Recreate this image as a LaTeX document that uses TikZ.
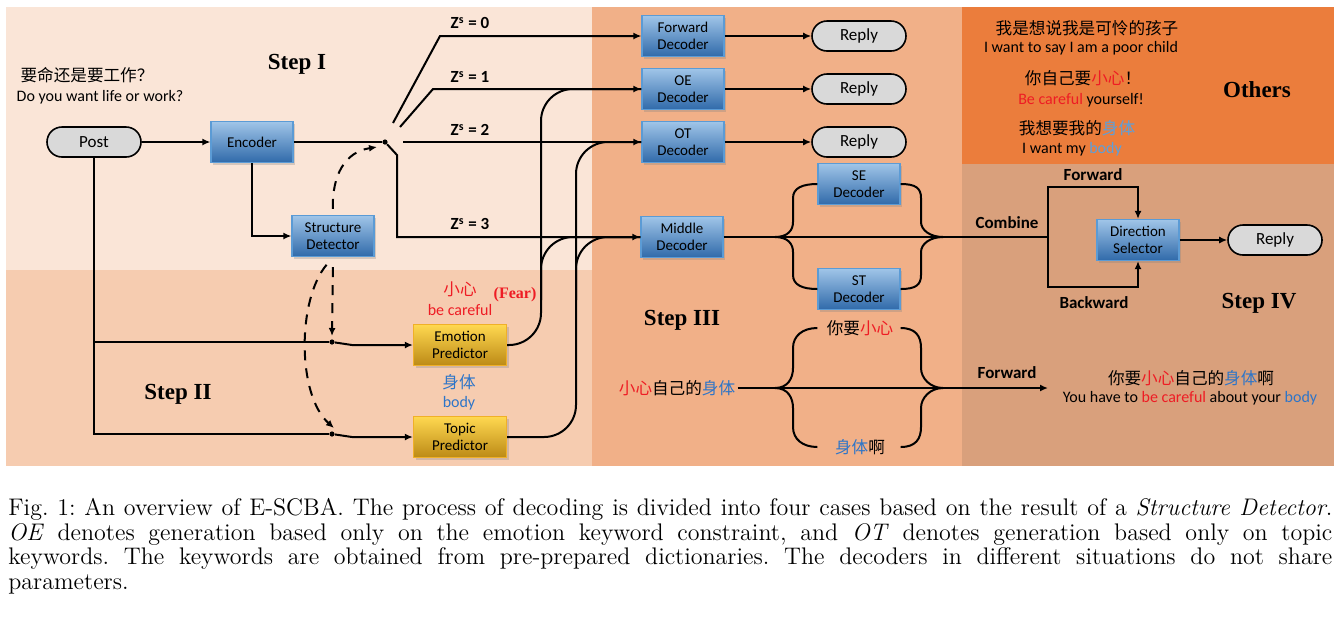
\documentclass[tikz,border=0pt]{standalone}
\usepackage{fontspec}
\setsansfont{Carlito}
\newfontfamily\cjk{Noto Sans CJK SC}
\newfontfamily\stepfont{Liberation Serif}
\usetikzlibrary{positioning,arrows.meta,shadows}

\definecolor{bgI}{RGB}{250,229,215}
\definecolor{bgII}{RGB}{246,204,176}
\definecolor{bgIII}{RGB}{241,176,136}
\definecolor{bgO}{RGB}{235,125,60}
\definecolor{bgIV}{RGB}{217,160,124}
\definecolor{boxtop}{RGB}{160,197,232}
\definecolor{boxbot}{RGB}{48,106,170}
\definecolor{boxedge}{RGB}{91,155,213}
\definecolor{predtop}{RGB}{255,216,80}
\definecolor{predbot}{RGB}{188,138,22}
\definecolor{prededge}{RGB}{240,176,40}
\definecolor{pillgray}{RGB}{217,217,217}
\definecolor{kred}{RGB}{238,28,36}
\definecolor{kblue}{RGB}{46,117,200}
\definecolor{kbluelt}{RGB}{91,160,220}

\begin{document}
\begin{tikzpicture}[x=0.5pt, y=-0.5pt,
    wire/.style={line width=1pt},
    arr/.style={wire, -{Latex[length=4pt,width=3.5pt]}},
    dsh/.style={wire, dash pattern=on 5pt off 4pt},
    box/.style={rectangle, draw=boxedge, line width=0.6pt, top color=boxtop, bottom color=boxbot,
        minimum width=41pt, minimum height=20.5pt, inner sep=1pt, align=center,
        font=\sffamily\fontsize{7.5}{8.5}\selectfont,
        drop shadow={shadow xshift=1pt, shadow yshift=-1pt, opacity=0.3}},
    pred/.style={box, draw=prededge, top color=predtop, bottom color=predbot, minimum width=46.5pt},
    pill/.style={rectangle, rounded corners=7.5pt, draw, line width=0.8pt, fill=pillgray,
        minimum width=47pt, minimum height=15pt, font=\sffamily\fontsize{8.5}{10}\selectfont},
    step_label/.style={font=\stepfont\bfseries\fontsize{11.5}{13}\selectfont},
    z_label/.style={font=\sffamily\bfseries\fontsize{8.5}{10}\selectfont},
    txt/.style={font=\sffamily\fontsize{8}{9.5}\selectfont, inner sep=1pt},
    cn/.style={font=\cjk\fontsize{8.3}{10}\selectfont, inner sep=1pt},
    dot/.style={circle, fill=black, inner sep=0pt, minimum size=2.6pt}
]
    \useasboundingbox (0,0) rectangle (1342,618);
    % Fundos
    \fill[white] (0,0) rectangle (1342,618);
    \fill[bgI] (6,7) rectangle (592,270);
    \fill[bgII] (6,270) rectangle (592,466);
    \fill[bgIII] (592,7) rectangle (962,466);
    \fill[bgO] (962,7) rectangle (1334,164);
    \fill[bgIV] (962,164) rectangle (1334,466);

    % Passo I
    \node[step_label] (s1) at (297,64) {Step I};
    \node[cn] (q_cn) at (87,75) {要命还是要工作？};
    \node[txt] (q_en) at (100,97) {Do you want life or work?};
    \node[pill] (post) at (94,142) {Post};
    \node[box] (enc) at (252,142) {Encoder};
    \node[box] (sd) at (333,236) {Structure\\Detector};
    \node[dot] (sw) at (385,142) {};
    \coordinate (c0) at (393,123);
    \coordinate (c1) at (400,127);
    \coordinate (c2) at (403,142);
    \coordinate (sd_tip) at (377,147);
    \draw[arr] (post) -- (enc);
    \draw[wire] (enc) -- (sw);
    \draw[arr] (enc.south) |- (sd.west);
    \draw[dsh, arr, shorten <=3pt] (sd.north) .. controls (332,175) and (345,152) .. (sd_tip);

    % Decoders
    \node[box] (fd) at (683,36) {Forward\\Decoder};
    \node[box] (oe) at (683,89) {OE\\Decoder};
    \node[box] (ot) at (683,142) {OT\\Decoder};
    \node[box] (md) at (682,237) {Middle\\Decoder};
    \node[z_label] (z0) at (470,23) {Z\textsuperscript{s} = 0};
    \node[z_label] (z1) at (470,77) {Z\textsuperscript{s} = 1};
    \node[z_label] (z2) at (470,130) {Z\textsuperscript{s} = 2};
    \node[z_label] (z3) at (470,224) {Z\textsuperscript{s} = 3};
    \draw[arr] (c0) -- (440,36) -- (fd.west);
    \draw[arr] (c1) -- (433,89) -- (oe.west);
    \draw[arr] (c2) -- (ot.west);
    \draw[arr] (sw) -- (397,155) -- (397,237) -- (md.west);
    \node[pill] (r1) at (859,36) {Reply};
    \node[pill] (r2) at (859,89) {Reply};
    \node[pill] (r3) at (859,142) {Reply};
    \draw[arr] (fd) -- (r1);
    \draw[arr] (oe) -- (r2);
    \draw[arr] (ot) -- (r3);

    % Passo II
    \node[step_label] (s2) at (178,394) {Step II};
    \node[pred] (ep) at (460,345) {Emotion\\Predictor};
    \node[pred] (tp) at (460,437) {Topic\\Predictor};
    \node[dot] (esw) at (332,342) {};
    \node[dot] (tsw) at (332,434) {};
    \node[cn, text=kred] (e_cn) at (460,289) {小心};
    \node[txt, text=kred] (e_en) at (460,310) {be careful};
    \node[font=\stepfont\bfseries\fontsize{8}{10}\selectfont, text=kred, inner sep=1pt] (fear) at (515,295) {(Fear)};
    \node[cn, text=kblue] (t_cn) at (459,382) {身体};
    \node[txt, text=kblue] (t_en) at (459,403) {body};
    \coordinate (e_tip) at (332,336);
    \coordinate (t_tip) at (334,428);
    \draw[wire] (post.south) |- (esw);
    \draw[wire] (post.south) |- (tsw);
    \draw[arr] (esw) -- (352,345) -- (ep.west);
    \draw[arr] (tsw) -- (352,437) -- (tp.west);
    \draw[dsh, arr, shorten <=5pt] (sd.south) -- (e_tip);
    \draw[dsh, arr, shorten <=5pt] (sd.south) .. controls (297,300) and (297,395) .. (t_tip);
    \draw[wire, rounded corners=16pt] (ep.east) -| (541,89) -- (oe.west);
    \draw[wire, rounded corners=16pt] (541,300) |- (md.west);
    \draw[wire, rounded corners=16pt] (tp.east) -| (576,142) -- (ot.west);
    \draw[wire, rounded corners=16pt] (576,300) |- (md.west);

    % Passo III
    \node[step_label] (s3) at (682,320) {Step III};
    \node[box] (se) at (859,184) {SE\\Decoder};
    \node[box] (st) at (859,289) {ST\\Decoder};
    \coordinate (m_l) at (775,237);
    \coordinate (m_r) at (943,237);
    \coordinate (cmb) at (1048,237);
    \draw[wire] (md.east) -- (cmb);
    \draw[wire] (m_l) .. controls +(13,0) and +(0,8) .. (793,222) -- (793,198) .. controls +(0,-10) and +(-15,0) .. (se.west);
    \draw[wire] (m_l) .. controls +(13,0) and +(0,-8) .. (793,252) -- (793,275) .. controls +(0,10) and +(-15,0) .. (st.west);
    \draw[wire] (se.east) .. controls +(15,0) and +(0,-10) .. (921,198) -- (921,222) .. controls +(0,8) and +(-13,0) .. (m_r);
    \draw[wire] (st.east) .. controls +(15,0) and +(0,10) .. (921,275) -- (921,252) .. controls +(0,-8) and +(-13,0) .. (m_r);
    \node[cn] (src) at (677,388) {\textcolor{kred}{小心}自己的\textcolor{kblue}{身体}};
    \node[cn] (ttop) at (860,328) {你要\textcolor{kred}{小心}};
    \node[cn] (tbot) at (860,447) {\textcolor{kblue}{身体}啊};
    \coordinate (b_l) at (775,388);
    \coordinate (b_r) at (943,388);
    \coordinate (fwd_tip) at (1048,388);
    \draw[arr] (src.east) -- (fwd_tip);
    \draw[wire] (b_l) .. controls +(13,0) and +(0,10) .. (793,368) -- (793,348) .. controls +(0,-12) and +(-15,0) .. (se.west |- ttop);
    \draw[wire] (b_l) .. controls +(13,0) and +(0,-10) .. (793,408) -- (793,427) .. controls +(0,12) and +(-15,0) .. (st.west |- tbot);
    \draw[wire] (se.east |- ttop) .. controls +(15,0) and +(0,-12) .. (921,348) -- (921,368) .. controls +(0,10) and +(-13,0) .. (b_r);
    \draw[wire] (st.east |- tbot) .. controls +(15,0) and +(0,12) .. (921,427) -- (921,408) .. controls +(0,-10) and +(-13,0) .. (b_r);

    % Passo IV
    \node[step_label] (s4) at (1259,303) {Step IV};
    \node[box] (ds) at (1138,240) {Direction\\Selector};
    \node[pill] (r4) at (1275,240) {Reply};
    \node[z_label] (comb) at (1007,223) {Combine};
    \node[z_label] (fw1) at (1093,175) {Forward};
    \node[z_label] (bw1) at (1094,303) {Backward};
    \node[z_label] (fw2) at (1007,373) {Forward};
    \draw[arr] (cmb) -- ++(0,-50) -| (ds.north);
    \draw[arr] (cmb) -- ++(0,50) -| (ds.south);
    \draw[arr] (ds) -- (r4);
    \node[cn] (ans_cn) at (1191,378) {你要\textcolor{kred}{小心}自己的\textcolor{kblue}{身体}啊};
    \node[txt] (ans_en) at (1190,398) {You have to \textcolor{kred}{be careful} about your \textcolor{kblue}{body}};

    % Outros
    \node[step_label] (s5) at (1257,90) {Others};
    \node[cn] (o1c) at (1087,28) {我是想说我是可怜的孩子};
    \node[txt] (o1e) at (1081,48) {I want to say I am a poor child};
    \node[cn] (o2c) at (1083,78) {你自己要\textcolor{kred}{小心}！};
    \node[txt] (o2e) at (1081,100) {\textcolor{kred}{Be careful} yourself!};
    \node[cn] (o3c) at (1077,128) {我想要我的\textcolor{kbluelt}{身体}};
    \node[txt] (o3e) at (1072,149) {I want my \textcolor{kbluelt}{body}};

    % Legenda
    \node[anchor=north west, inner sep=0pt, text width=662pt, align=justify,
        font=\fontsize{12}{12.3}\selectfont\frenchspacing] (cap) at (8,498)
        {Fig. 1: An overview of E-SCBA. The process of decoding is divided into four cases based on the result of a \emph{Structure Detector}.\linebreak
        \emph{OE} denotes generation based only on the emotion keyword constraint, and \emph{OT} denotes generation based only on topic\linebreak
        keywords. The keywords are obtained from pre-prepared dictionaries. The decoders in different situations do not share\linebreak
        parameters.};
\end{tikzpicture}
\end{document}
